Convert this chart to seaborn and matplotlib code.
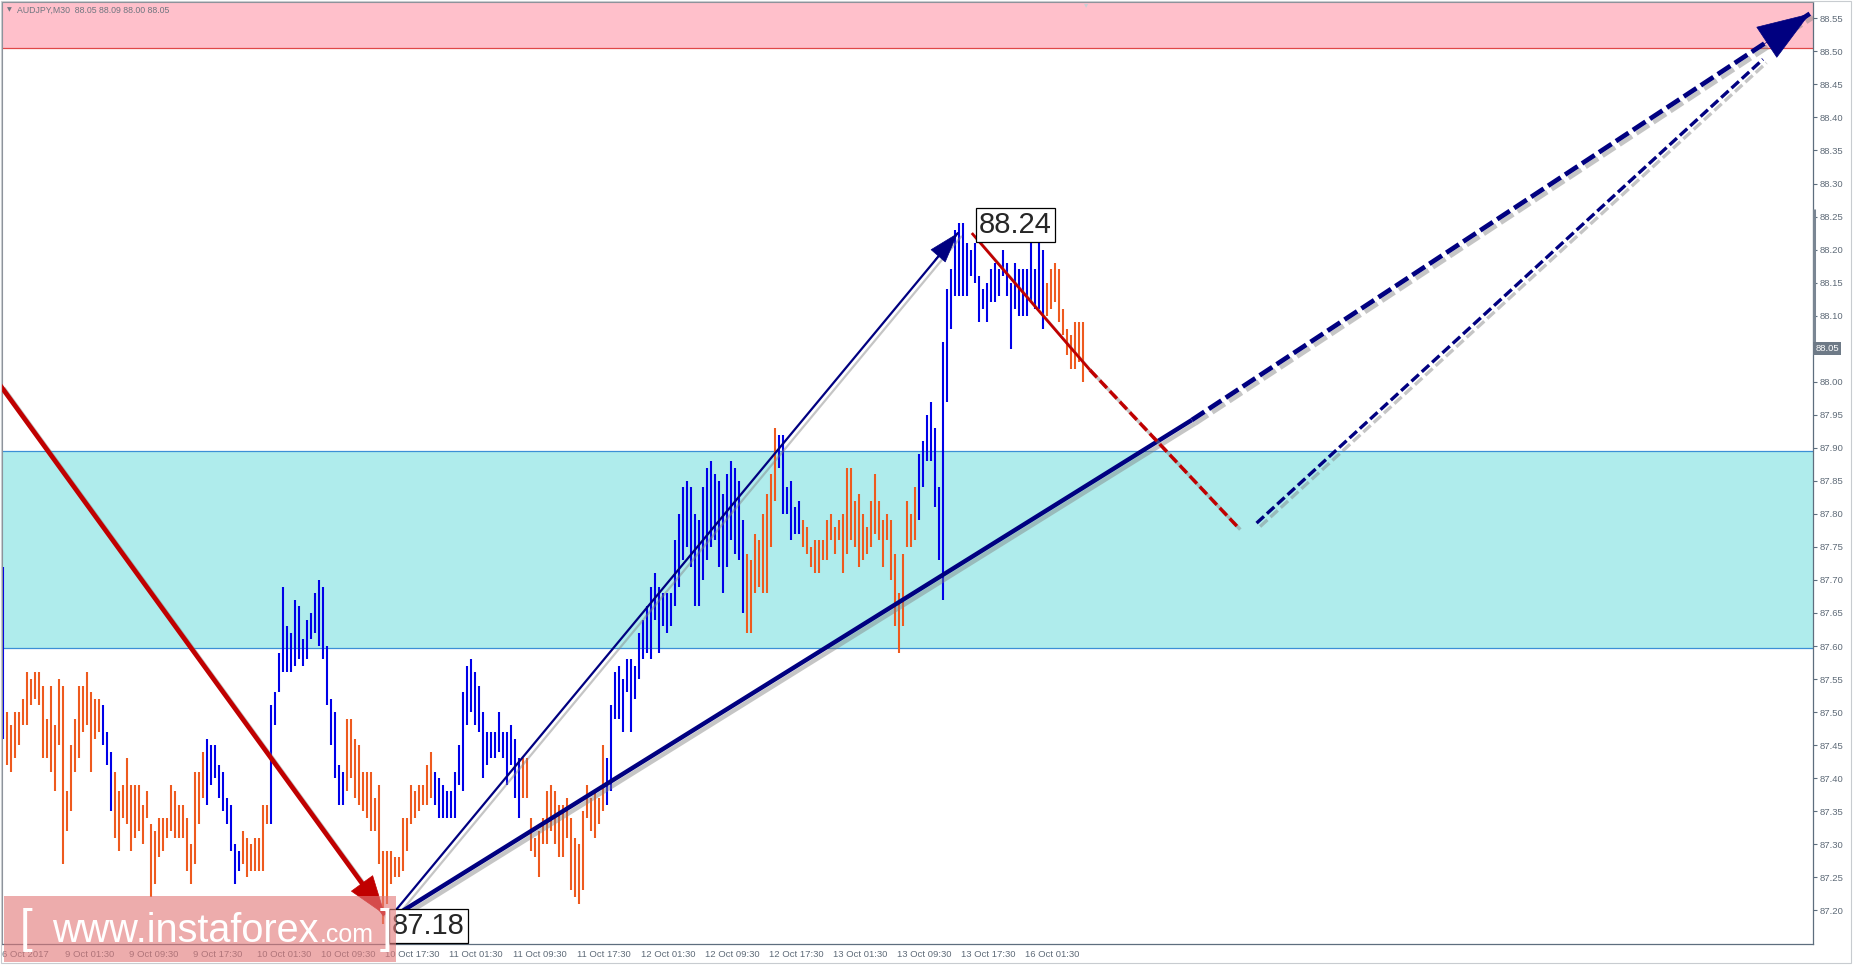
import numpy as np
import pandas as pd
import matplotlib
matplotlib.use("Agg")
import matplotlib.pyplot as plt
import matplotlib.patheffects as pe
import matplotlib.transforms as mtransforms
from matplotlib.patches import Rectangle
import seaborn as sns

# -----------------------------
# data (bar highs / lows, one entry per bar)
# -----------------------------
highs = [
    87.72,                                                                  # up
    87.50, 87.48, 87.50, 87.50, 87.52, 87.56, 87.55, 87.56, 87.56, 87.54, 87.49, 87.54,
    87.48, 87.55, 87.54, 87.38, 87.45, 87.49, 87.54, 87.54, 87.56, 87.53, 87.52, 87.52,  # down
    87.51, 87.47, 87.44,                                                    # up
    87.41, 87.38, 87.39, 87.43, 87.39, 87.39, 87.39, 87.36, 87.38, 87.33, 87.32, 87.34,
    87.34, 87.34, 87.39, 87.38, 87.36, 87.36, 87.34, 87.30, 87.41, 87.41, 87.44,        # down
    87.46, 87.45, 87.45, 87.42, 87.41, 87.37, 87.36, 87.30, 87.29,          # up
    87.32, 87.31, 87.30, 87.31, 87.31, 87.36, 87.36,                        # down
    87.51, 87.53, 87.59, 87.69, 87.63, 87.62, 87.67, 87.66, 87.61, 87.64, 87.65, 87.68,
    87.70, 87.69, 87.60, 87.52, 87.50, 87.42, 87.41,                        # up
    87.49, 87.49, 87.46, 87.45, 87.41, 87.41, 87.41, 87.37, 87.39, 87.29, 87.29, 87.29,
    87.28, 87.28, 87.34, 87.34, 87.39, 87.38, 87.39, 87.39, 87.42, 87.44,  # down
    87.41, 87.40, 87.39, 87.38, 87.38, 87.41, 87.45, 87.53, 87.57, 87.58, 87.56, 87.54,
    87.50, 87.47, 87.47, 87.47, 87.50, 87.47, 87.47, 87.48, 87.46, 87.43,  # up
    87.43, 87.43, 87.34, 87.31, 87.32, 87.34, 87.38, 87.39, 87.38, 87.36, 87.36, 87.37,
    87.34, 87.31, 87.30, 87.35, 87.39, 87.37, 87.38, 87.37, 87.45,         # down
    87.43, 87.51, 87.56, 87.57, 87.55, 87.58, 87.58, 87.57, 87.62, 87.64, 87.66, 87.69,
    87.71, 87.69, 87.68, 87.68, 87.68, 87.76, 87.80, 87.84, 87.85, 87.84, 87.80, 87.79,
    87.84, 87.87, 87.88, 87.86, 87.85, 87.83, 87.86, 87.88, 87.87, 87.85, 87.79,  # up
    87.74, 87.73, 87.77, 87.76, 87.80, 87.83, 87.86, 87.93,                 # down
    87.92, 87.92, 87.84, 87.85, 87.81, 87.82,                               # up
    87.79, 87.78, 87.75, 87.76, 87.76, 87.76, 87.79, 87.80, 87.78, 87.79, 87.80, 87.87,
    87.87, 87.82, 87.83, 87.80, 87.78, 87.82, 87.86, 87.82, 87.79, 87.80, 87.79, 87.74,
    87.68, 87.74, 87.82, 87.80, 87.84,                                      # down
    87.89, 87.91, 87.95, 87.97, 87.93, 87.84, 88.06, 88.14, 88.17, 88.23, 88.24, 88.24,
    88.21, 88.20, 88.21, 88.16, 88.14, 88.15, 88.17, 88.18, 88.17, 88.20, 88.18, 88.15,
    88.18, 88.17, 88.17, 88.17, 88.22, 88.17, 88.22, 88.20,                 # up
    88.15, 88.17, 88.18, 88.17, 88.11, 88.08, 88.07, 88.09, 88.09, 88.09,  # down
]
lows = [
    87.46,
    87.42, 87.41, 87.43, 87.45, 87.48, 87.48, 87.51, 87.52, 87.51, 87.43, 87.43, 87.41,
    87.38, 87.45, 87.27, 87.32, 87.35, 87.41, 87.43, 87.47, 87.48, 87.41, 87.46, 87.47,
    87.45, 87.42, 87.35,
    87.31, 87.29, 87.34, 87.33, 87.29, 87.31, 87.32, 87.30, 87.34, 87.22, 87.24, 87.28,
    87.29, 87.31, 87.32, 87.31, 87.31, 87.31, 87.26, 87.24, 87.27, 87.33, 87.37,
    87.36, 87.39, 87.40, 87.37, 87.35, 87.33, 87.29, 87.24, 87.26,
    87.27, 87.25, 87.26, 87.26, 87.26, 87.26, 87.33,
    87.33, 87.48, 87.53, 87.56, 87.56, 87.56, 87.57, 87.58, 87.57, 87.58, 87.61, 87.62,
    87.60, 87.58, 87.51, 87.45, 87.40, 87.36, 87.36,
    87.38, 87.40, 87.37, 87.36, 87.35, 87.34, 87.32, 87.32, 87.27, 87.18, 87.21, 87.24,
    87.25, 87.25, 87.26, 87.29, 87.33, 87.34, 87.35, 87.36, 87.36, 87.37,
    87.36, 87.34, 87.34, 87.34, 87.34, 87.34, 87.39, 87.38, 87.48, 87.50, 87.48, 87.47,
    87.40, 87.42, 87.43, 87.43, 87.44, 87.43, 87.39, 87.42, 87.37, 87.34,
    87.37, 87.37, 87.29, 87.28, 87.25, 87.30, 87.30, 87.32, 87.30, 87.28, 87.28, 87.31,
    87.23, 87.22, 87.21, 87.23, 87.34, 87.32, 87.31, 87.33, 87.35,
    87.36, 87.38, 87.49, 87.49, 87.47, 87.53, 87.47, 87.52, 87.55, 87.58, 87.59, 87.58,
    87.64, 87.59, 87.63, 87.62, 87.63, 87.66, 87.69, 87.73, 87.75, 87.72, 87.66, 87.66,
    87.70, 87.73, 87.75, 87.76, 87.72, 87.68, 87.72, 87.76, 87.74, 87.73, 87.65,
    87.62, 87.62, 87.68, 87.69, 87.68, 87.68, 87.75, 87.82,
    87.87, 87.80, 87.80, 87.76, 87.77, 87.77,
    87.75, 87.74, 87.72, 87.71, 87.71, 87.73, 87.73, 87.76, 87.74, 87.76, 87.71, 87.74,
    87.76, 87.75, 87.72, 87.73, 87.74, 87.75, 87.77, 87.76, 87.72, 87.76, 87.70, 87.63,
    87.59, 87.63, 87.75, 87.75, 87.76,
    87.79, 87.84, 87.88, 87.88, 87.81, 87.73, 87.67, 87.97, 88.08, 88.13, 88.13, 88.13,
    88.13, 88.16, 88.15, 88.09, 88.11, 88.09, 88.12, 88.12, 88.13, 88.16, 88.13, 88.05,
    88.11, 88.10, 88.10, 88.10, 88.12, 88.11, 88.11, 88.08,
    88.10, 88.11, 88.12, 88.09, 88.07, 88.04, 88.02, 88.02, 88.03, 88.00,
]
leg_sizes = [1, 24, 3, 23, 9, 7, 19, 22, 22, 21, 35, 8, 6, 29, 32, 10]

time_labels = ["6 Oct 2017", "9 Oct 01:30", "9 Oct 09:30", "9 Oct 17:30", "10 Oct 01:30",
               "10 Oct 09:30", "10 Oct 17:30", "11 Oct 01:30", "11 Oct 09:30", "11 Oct 17:30",
               "12 Oct 01:30", "12 Oct 09:30", "12 Oct 17:30", "13 Oct 01:30", "13 Oct 09:30",
               "13 Oct 17:30", "16 Oct 01:30"]
time_label_bars = [-0.2] + [15.5 + 16 * i for i in range(16)]
price_ticks = [round(87.20 + 0.05 * i, 2) for i in range(28)]

support_zone = (87.597, 87.895)
target_zone = 88.505
wave_low, wave_high, last_close = 87.18, 88.24, 88.05

# wave marking lines (bar index, price)
wave_a = ([-0.75, 95.5], [87.995, 87.193])
wave_b = ([97.5, 238.7], [87.195, 88.225])
trend_line = ([97.5, 297.2], [87.190, 87.942])
trend_proj = ([297.2, 451.7], [87.942, 88.557])
wave_c = ([242.2, 271.7], [88.225, 88.018])
wave_c_proj = ([271.7, 308.7], [88.018, 87.780])
wave_d_proj = ([313.4, 440.0], [87.786, 88.488])

# -----------------------------
# figure
# -----------------------------
sns.set_theme(style="white")
plt.rcParams["font.family"] = ["Liberation Sans", "DejaVu Sans"]

W, H = 1855, 967
fig = plt.figure(figsize=(W / 100, H / 100), dpi=100)
ax = fig.add_axes([2 / W, 23 / H, 1811 / W, 942 / H])
ax.set_xlim(-0.25, 452.5)
ax.set_ylim(87.149, 88.5747)

red = "#C00000"
navy = "#000080"
shadow = [pe.SimpleLineShadow(offset=(2.5, -2.5), shadow_color="#808080", alpha=0.45), pe.Normal()]

# zones
ax.axhspan(target_zone, 89.0, color="#FFC0CB", lw=0, zorder=0)
ax.axhline(target_zone, color="#E04848", lw=0.9, zorder=0.5)
ax.axhspan(*support_zone, color="#AFECEC", lw=0, zorder=0)
for lvl in support_zone:
    ax.axhline(lvl, color="#3C8FD6", lw=0.9, zorder=0.5)

# price bars
dirs = []
for i, n in enumerate(leg_sizes):
    dirs += ["up" if i % 2 == 0 else "down"] * n
bars = np.arange(len(highs))
df = pd.DataFrame({
    "bar": np.repeat(bars, 2),
    "price": np.column_stack([lows, highs]).ravel(),
    "leg": np.repeat(dirs, 2),
})
sns.lineplot(data=df, x="bar", y="price", units="bar", estimator=None, sort=False,
             hue="leg", palette={"up": "#0000E8", "down": "#EE5A1E"},
             lw=1.5, legend=False, ax=ax, zorder=2)
for l in ax.lines:
    l.set_solid_capstyle("butt")

# wave lines
ax.plot(*wave_a, color=red, lw=3.4, zorder=4, path_effects=shadow, solid_capstyle="butt")
ax.annotate("", xy=(wave_a[0][1], wave_a[1][1]), xytext=(89, 87.247), zorder=4,
            arrowprops=dict(arrowstyle="-|>,head_length=1.3,head_width=0.45", color=red,
                            lw=0.5, mutation_scale=21, shrinkA=0, shrinkB=0))
ax.plot(*wave_b, color=navy, lw=1.6, zorder=4, path_effects=shadow)
ax.annotate("", xy=(wave_b[0][1], wave_b[1][1]), xytext=(233, 88.185), zorder=4,
            arrowprops=dict(arrowstyle="-|>,head_length=1.3,head_width=0.42", color=navy,
                            lw=0.5, mutation_scale=16, shrinkA=0, shrinkB=0))
ax.plot(*trend_line, color=navy, lw=3.2, zorder=4, path_effects=shadow, solid_capstyle="butt")
ax.plot(*trend_proj, color=navy, lw=3.4, ls=(0, (3.2, 1.1)), zorder=4, path_effects=shadow)
ax.annotate("", xy=(trend_proj[0][1], trend_proj[1][1]), xytext=(440, 88.51), zorder=5,
            arrowprops=dict(arrowstyle="-|>,head_length=1.4,head_width=0.5", color=navy,
                            lw=0.5, mutation_scale=26, shrinkA=0, shrinkB=0))
ax.plot(*wave_c, color=red, lw=2.0, zorder=4, path_effects=shadow, solid_capstyle="butt")
ax.plot(*wave_c_proj, color=red, lw=2.5, ls=(0, (3.0, 1.2)), zorder=4, path_effects=shadow)
ax.plot(*wave_d_proj, color=navy, lw=2.4, ls=(0, (3.0, 1.2)), zorder=4, path_effects=shadow)

# extreme labels
box = dict(boxstyle="square,pad=0.1", fc="white", ec="black", lw=0.9)
ax.text(97.3, 87.176, f"{wave_low:.2f}", fontsize=21, va="center", ha="left", bbox=box, zorder=6)
ax.text(244.0, 88.237, f"{wave_high:.2f}", fontsize=21, va="center", ha="left", bbox=box, zorder=6)

# axes styling (MT4 look)
grey = "#5F6B78"
for s in ["left", "top"]:
    ax.spines[s].set_color("#8A9098")
    ax.spines[s].set_linewidth(0.8)
for s in ["right", "bottom"]:
    ax.spines[s].set_color("#5E6E7E")
    ax.spines[s].set_linewidth(0.9)
ax.yaxis.tick_right()
ax.set_yticks(price_ticks)
# the last-price tag sits on the 88.05 level, so that tick keeps no own label
ax.set_yticklabels(["" if abs(p - last_close) < 1e-9 else f"{p:.2f}" for p in price_ticks])
ax.set_xticks(time_label_bars)
ax.set_xticklabels(time_labels)
for t in ax.get_xticklabels():
    t.set_horizontalalignment("left")
ax.tick_params(axis="y", direction="out", length=3, width=0.8, color="#5E6E7E",
               labelsize=6.8, labelcolor=grey, pad=2)
ax.tick_params(axis="x", direction="out", length=3, width=0.8, color="#5E6E7E",
               labelsize=6.8, labelcolor=grey, pad=1.5)
ax.set_xlabel("")
ax.set_ylabel("")

# day range marker and last price tag on the price scale
ax.vlines(452.8, 88.055, 88.262, colors="#7A8693", lw=2.2, clip_on=False, zorder=6)
tr = mtransforms.blended_transform_factory(ax.transAxes, ax.transData)
ax.text(1.0012, last_close, f"{last_close:.2f}", transform=tr, fontsize=6.8, color="white",
        va="center", ha="left", zorder=20,
        bbox=dict(boxstyle="square,pad=0.2", fc="#6E7A87", ec="none"))

# header
fig.text(7 / W, 1 - 10 / H, "\u25bc", fontsize=4.5, color="#6F7680", va="center",
         family="DejaVu Sans")
fig.text(17 / W, 1 - 10 / H, "AUDJPY,M30  88.05 88.09 88.00 88.05", fontsize=6.3,
         color="#6F7680", va="center")
fig.text(1086 / W, 1 - 5 / H, "\u25be", fontsize=6, color="#C8CED4", va="center",
         ha="center", family="DejaVu Sans")

# outer frame
fig.add_artist(Rectangle((0.5 / W, 4 / H), 1850 / W, 962 / H, transform=fig.transFigure,
                         fill=False, ec="#C8CCD0", lw=0.8))

# watermark
fig.add_artist(Rectangle((4 / W, 5 / H), 392 / W, 66 / H, transform=fig.transFigure,
                         fc="#E27A7A", alpha=0.62, ec="none", zorder=10))
fig.text(20 / W, 25 / H, "[", fontsize=33, color="white", va="baseline", zorder=11)
site = fig.text(52 / W, 25 / H, "www.instaforex", fontsize=28.5, color="white",
                va="baseline", zorder=11)
renderer = fig.canvas.get_renderer()
site_end = site.get_window_extent(renderer).x1
fig.text((site_end + 1) / W, 25 / H, ".com", fontsize=18, color="white", va="baseline", zorder=11)
fig.text(380 / W, 25 / H, "]", fontsize=33, color="white", va="baseline", zorder=11)

fig.savefig("out.png", dpi=100)
